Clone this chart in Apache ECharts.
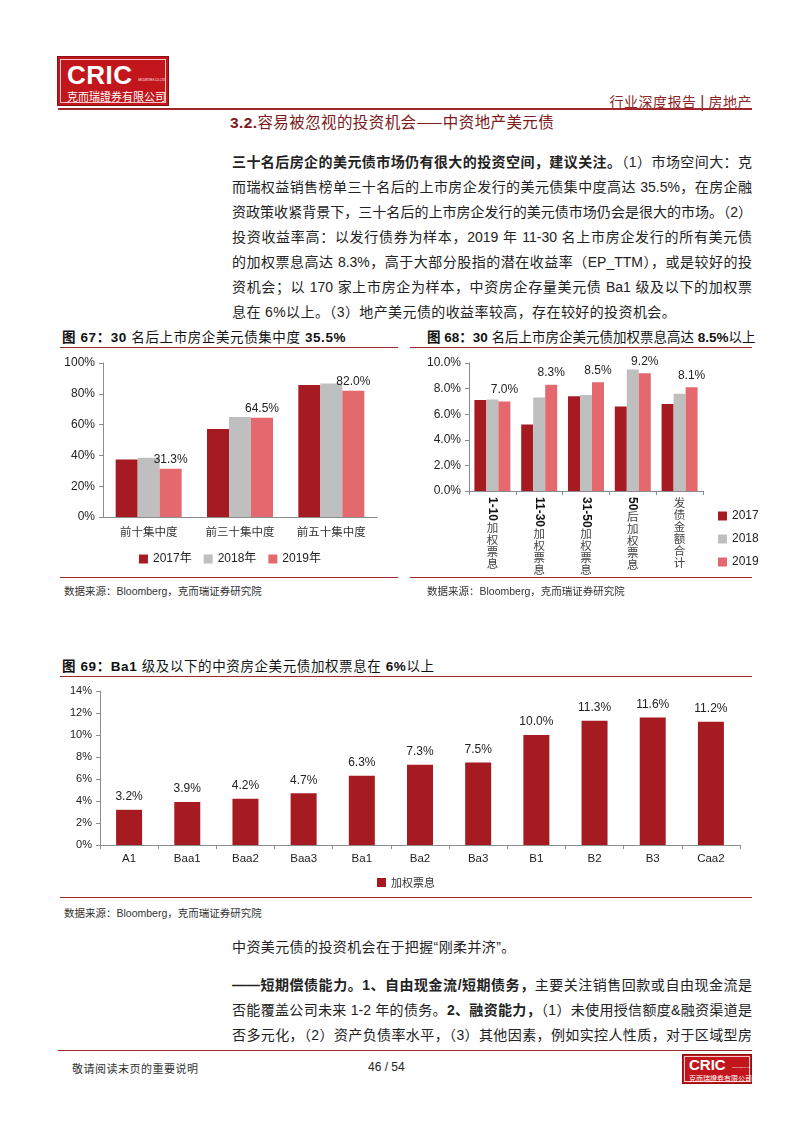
<!DOCTYPE html>
<html>
<head>
<meta charset="utf-8">
<script src="https://cdn.jsdelivr.net/npm/echarts@6/dist/echarts.min.js"></script>
<style>
  html, body { margin: 0; padding: 0; background: #fff; }
  body { width: 800px; height: 1131px; position: relative; overflow: hidden;
         font-family: "Liberation Sans", "Noto Sans CJK SC", sans-serif; color: #222; }
  .abs { position: absolute; }
  .logo { position: absolute; background: #c3161c; box-shadow: 0 0 0 1px #8e0f14; }
  .logo .in { position: absolute; left: 2px; top: 2px; right: 2px; bottom: 2px; border: 1px solid #f3c9ca; }
  .logo .cric { position: absolute; color: #fff; font-weight: bold; font-family: "Liberation Sans", sans-serif; }
  .logo .sec { position: absolute; color: #fff; font-size: 3px; transform-origin: left top; white-space: nowrap; }
  .logo .cn { position: absolute; color: #fff; font-family: "Noto Sans CJK SC", sans-serif; white-space: nowrap; }
  .rule { position: absolute; height: 1px; background: #a0282c; }
  .ftitle { position: absolute; font-size: 13.5px; font-weight: bold; color: #111; white-space: nowrap; letter-spacing: 0.6px; }
  .ftitle span { font-weight: normal; }
  .src { position: absolute; font-size: 10.5px; color: #333; white-space: nowrap; }
  .para { position: absolute; left: 232px; width: 520px; font-size: 14px; height: 25px; line-height: 25px;
          text-align: justify; text-align-last: justify; white-space: nowrap; color: #222; }
  .para.last { text-align-last: left; letter-spacing: 0.4px; }
  .chart { position: absolute; }
</style>
</head>
<body>

<!-- header -->
<div class="logo" style="left:58px;top:57px;width:110px;height:48px;">
  <div class="in"></div>
  <div class="cric" style="left:9px;top:3px;font-size:26px;letter-spacing:0.5px;">CRIC</div>
  <div class="sec" style="left:80px;top:21px;transform:scale(0.9);">SECURITIES CO.,LTD</div>
  <div class="cn" style="left:9px;top:31px;font-size:11px;">克而瑞證券有限公司</div>
</div>
<div class="abs" style="right:48px;top:91px;font-size:14px;color:#8b2626;font-family:'Noto Sans CJK SC';white-space:nowrap;letter-spacing:0.5px;">行业深度报告 <b>|</b> 房地产</div>
<div class="rule" style="left:58px;top:108px;width:694px;height:1.5px;"></div>
<div class="abs" style="left:230px;top:110px;font-size:15.5px;color:#7d1a1a;white-space:nowrap;font-family:'Noto Sans CJK SC';letter-spacing:0.4px;"><b style="font-family:'Liberation Sans'">3.2.</b>容易被忽视的投资机会——中资地产美元债</div>

<!-- paragraph -->
<div class="para" style="top:150px;"><b>三十名后房企的美元债市场仍有很大的投资空间，建议关注。</b>（1）市场空间大：克</div>
<div class="para" style="top:175px;">而瑞权益销售榜单三十名后的上市房企发行的美元债集中度高达 35.5%，在房企融</div>
<div class="para" style="top:200px;">资政策收紧背景下，三十名后的上市房企发行的美元债市场仍会是很大的市场。（2）</div>
<div class="para" style="top:225px;">投资收益率高：以发行债券为样本，2019 年 11-30 名上市房企发行的所有美元债</div>
<div class="para" style="top:250px;">的加权票息高达 8.3%，高于大部分股指的潜在收益率（EP_TTM），或是较好的投</div>
<div class="para" style="top:275px;">资机会；以 170 家上市房企为样本，中资房企存量美元债 Ba1 级及以下的加权票</div>
<div class="para last" style="top:300px;">息在 6%以上。（3）地产美元债的收益率较高，存在较好的投资机会。</div>

<!-- figure 67 -->
<div class="ftitle" style="left:62px;top:326px;">图 67：30 <span>名后上市房企美元债集中度</span> 35.5%</div>
<div class="rule" style="left:60px;top:347px;width:338px;"></div>
<div class="chart" id="c67" style="left:60px;top:350px;width:340px;height:225px;"></div>
<div class="rule" style="left:60px;top:577px;width:338px;"></div>
<div class="src" style="left:64px;top:583px;">数据来源：Bloomberg，克而瑞证券研究院</div>

<!-- figure 68 -->
<div class="ftitle" style="left:427px;top:326px;letter-spacing:0px;">图 68：30 <span>名后上市房企美元债加权票息高达</span> 8.5%<span>以上</span></div>
<div class="rule" style="left:410px;top:347px;width:342px;"></div>
<div class="chart" id="c68" style="left:410px;top:350px;width:390px;height:240px;"></div>
<div class="rule" style="left:410px;top:577px;width:342px;"></div>
<div class="src" style="left:427px;top:583px;">数据来源：Bloomberg，克而瑞证券研究院</div>

<!-- figure 69 -->
<div class="ftitle" style="left:62px;top:655px;">图 69：Ba1 <span>级及以下的中资房企美元债加权票息在</span> 6%<span>以上</span></div>
<div class="rule" style="left:60px;top:676px;width:692px;"></div>
<div class="chart" id="c69" style="left:60px;top:678px;width:692px;height:218px;"></div>
<div class="rule" style="left:60px;top:897px;width:692px;"></div>
<div class="src" style="left:64px;top:905px;">数据来源：Bloomberg，克而瑞证券研究院</div>

<!-- lower text -->
<div class="abs" style="left:232px;top:935px;font-size:14px;line-height:25px;white-space:nowrap;letter-spacing:0.4px;">中资美元债的投资机会在于把握“刚柔并济”。</div>
<div class="para" style="top:973px;"><b>——短期偿债能力。1、自由现金流/短期债务，</b>主要关注销售回款或自由现金流是</div>
<div class="para" style="top:998px;">否能覆盖公司未来 1-2 年的债务。<b>2、融资能力，</b>（1）未使用授信额度&amp;融资渠道是</div>
<div class="para" style="top:1023px;">否多元化，（2）资产负债率水平，（3）其他因素，例如实控人性质，对于区域型房</div>

<!-- footer -->
<div class="rule" style="left:58px;top:1050px;width:694px;"></div>
<div class="abs" style="left:72px;top:1060px;font-size:11px;color:#333;font-family:'Noto Sans CJK SC';white-space:nowrap;letter-spacing:0.5px;">敬请阅读末页的重要说明</div>
<div class="abs" style="left:368px;top:1060px;font-size:12px;color:#222;white-space:nowrap;">46 / 54</div>
<div class="logo" style="left:683px;top:1055px;width:68px;height:28px;">
  <div class="in" style="left:1px;top:1px;right:1px;bottom:1px;"></div>
  <div class="cric" style="left:6px;top:1px;font-size:15px;">CRIC</div>
  <div class="sec" style="left:49px;top:11px;transform:scale(0.6);">SECURITIES CO.,LTD</div>
  <div class="cn" style="left:6px;top:18px;font-size:7px;">克而瑞證券有限公司</div>
</div>

<script>
  // 图67 集中度
  const cats67 = ['前十集中度', '前三十集中度', '前五十集中度'];
  const v67_2017 = [37.3, 57.2, 85.7];
  const v67_2018 = [38.5, 65.0, 86.7];
  const v67_2019 = [31.3, 64.5, 82.0];
  const names67 = ['2017年', '2018年', '2019年'];

  // 图68 加权票息
  const cats68 = ['1-10加权票息', '11-30加权票息', '31-50加权票息', '50后加权票息', '发债金额合计'];
  const v68_2017 = [7.1, 5.2, 7.4, 6.6, 6.8];
  const v68_2018 = [7.15, 7.3, 7.5, 9.5, 7.6];
  const v68_2019 = [7.0, 8.3, 8.5, 9.2, 8.1];
  const names68 = ['2017', '2018', '2019'];

  // 图69 评级 vs 加权票息
  const cats69 = ['A1', 'Baa1', 'Baa2', 'Baa3', 'Ba1', 'Ba2', 'Ba3', 'B1', 'B2', 'B3', 'Caa2'];
  const v69 = [3.2, 3.9, 4.2, 4.7, 6.3, 7.3, 7.5, 10.0, 11.3, 11.6, 11.2];
  const name69 = '加权票息';

  const colors = ['#a61b22', '#bfbfbf', '#e4696e'];
  const FONT = '"Liberation Sans", "Noto Sans CJK SC", sans-serif';
  const axisLine = { show: true, lineStyle: { color: '#8c8c8c', width: 1 } };
  const axisTick = { show: true, length: 4, lineStyle: { color: '#8c8c8c' } };

  function pct(p) { return p.value.toFixed(1) + '%'; }

  // 竖排标签：数字部分旋转，汉字部分逐字换行
  const numPart = s => (s.match(/^[0-9\-]+/) || [''])[0];
  const cjkPart = s => s.slice(numPart(s).length);

  const c67 = echarts.init(document.getElementById('c67'));
  c67.setOption({
    animation: false,
    textStyle: { fontFamily: FONT },
    grid: { left: 43, right: 23, top: 13, bottom: 58, outerBoundsMode: 'none' },
    legend: {
      top: 198, left: 'center', itemWidth: 9, itemHeight: 9, itemGap: 12,
      icon: 'rect', textStyle: { fontSize: 12, color: '#222', fontFamily: FONT },
      data: names67
    },
    xAxis: {
      type: 'category', data: cats67, axisLine, axisTick: { ...axisTick, show: false },
      axisLabel: { fontSize: 11.5, color: '#333', margin: 9, fontFamily: 'Noto Sans CJK SC' }
    },
    yAxis: {
      type: 'value', min: 0, max: 100, interval: 20, splitLine: { show: false },
      axisLine, axisTick,
      axisLabel: { formatter: '{value}%', fontSize: 12, color: '#222', margin: 8 }
    },
    series: [
      { name: names67[0], type: 'bar', data: v67_2017, barWidth: 22, barGap: '0%', itemStyle: { color: colors[0] } },
      { name: names67[1], type: 'bar', data: v67_2018, barWidth: 22, barGap: '0%', itemStyle: { color: colors[1] } },
      { name: names67[2], type: 'bar', data: v67_2019, barWidth: 22, barGap: '0%', itemStyle: { color: colors[2] },
        label: { show: true, position: 'top', formatter: pct, fontSize: 12, color: '#222', distance: 3 } }
    ]
  });

  const c68 = echarts.init(document.getElementById('c68'));
  c68.setOption({
    animation: false,
    textStyle: { fontFamily: FONT },
    grid: { left: 59, right: 97, top: 13, bottom: 99, outerBoundsMode: 'none' },
    legend: {
      orient: 'vertical', left: 303, top: 155, itemWidth: 9, itemHeight: 9, itemGap: 11,
      icon: 'rect', textStyle: { fontSize: 12, color: '#222', fontFamily: FONT },
      data: names68
    },
    xAxis: [
      {
        type: 'category', data: cats68, axisLine,
        axisTick: { show: true, length: 4, lineStyle: { color: '#8c8c8c' } },
        axisLabel: {
          interval: 0, margin: 6, rotate: -90, formatter: v => numPart(v),
          fontSize: 12, fontWeight: 'bold', color: '#111', fontFamily: 'Liberation Sans'
        }
      },
      {
        type: 'category', data: cats68, position: 'bottom',
        axisLine: { show: false }, axisTick: { show: false },
        axisLabel: {
          interval: 0, margin: 6,
          formatter: v => {
            const n = numPart(v);
            const body = cjkPart(v).split('').map(ch => '{c|' + ch + '}').join('\n');
            return n ? '{g' + n.length + '| }\n' + body : body;
          },
          rich: {
            c: { fontSize: 11.5, lineHeight: 12, color: '#444', fontFamily: 'Noto Sans CJK SC' },
            g2: { fontSize: 1, lineHeight: 14 },
            g4: { fontSize: 1, lineHeight: 25 },
            g5: { fontSize: 1, lineHeight: 31 }
          }
        }
      }
    ],
    yAxis: {
      type: 'value', min: 0, max: 10, interval: 2, splitLine: { show: false },
      axisLine, axisTick,
      axisLabel: { formatter: v => v.toFixed(1) + '%', fontSize: 12, color: '#222', margin: 8 }
    },
    series: [
      { name: names68[0], type: 'bar', data: v68_2017, barWidth: 12, barGap: '0%', itemStyle: { color: colors[0] } },
      { name: names68[1], type: 'bar', data: v68_2018, barWidth: 12, barGap: '0%', itemStyle: { color: colors[1] } },
      { name: names68[2], type: 'bar', data: v68_2019, barWidth: 12, barGap: '0%', itemStyle: { color: colors[2] },
        label: { show: true, position: 'top', formatter: pct, fontSize: 12, color: '#222', distance: 6 } }
    ]
  });

  const c69 = echarts.init(document.getElementById('c69'));
  c69.setOption({
    animation: false,
    textStyle: { fontFamily: FONT },
    grid: { left: 40, right: 12, top: 13, bottom: 51, outerBoundsMode: 'none' },
    legend: {
      top: 194, left: 'center', itemWidth: 9, itemHeight: 9,
      icon: 'rect', textStyle: { fontSize: 11, color: '#333', fontFamily: 'Noto Sans CJK SC' },
      data: [name69]
    },
    xAxis: {
      type: 'category', data: cats69, axisLine,
      axisTick: { show: true, length: 4, lineStyle: { color: '#8c8c8c' } },
      axisLabel: { fontSize: 11.5, color: '#222', margin: 8 }
    },
    yAxis: {
      type: 'value', min: 0, max: 14, interval: 2, splitLine: { show: false },
      axisLine, axisTick,
      axisLabel: { formatter: '{value}%', fontSize: 11, color: '#222', margin: 8 }
    },
    series: [
      { name: name69, type: 'bar', data: v69, barWidth: 26, itemStyle: { color: colors[0] },
        label: { show: true, position: 'top', formatter: pct, fontSize: 12, color: '#222', distance: 7 } }
    ]
  });
</script>
</body>
</html>
